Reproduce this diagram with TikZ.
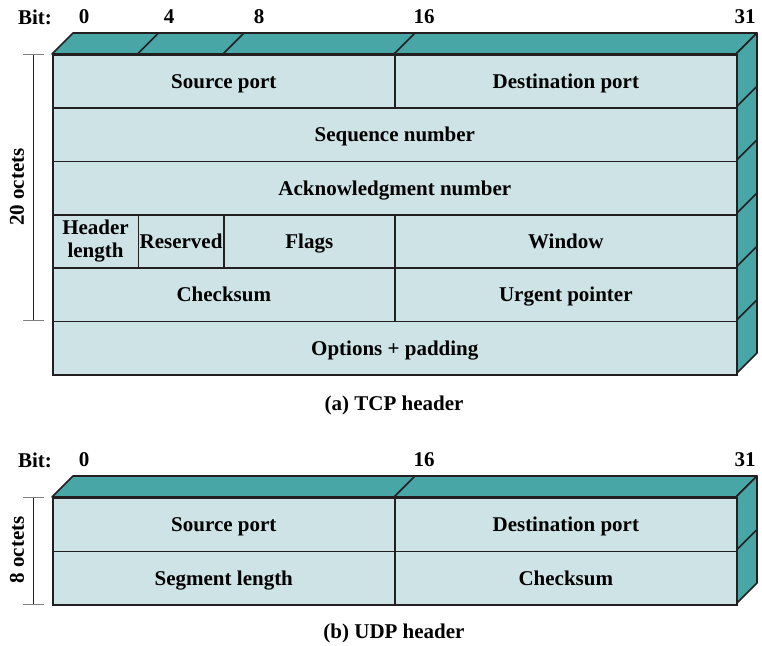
\documentclass[tikz,border=0pt]{standalone}
\usepackage{fontspec}
\setmainfont{Liberation Serif}
\usetikzlibrary{calc}
\definecolor{frontc}{HTML}{CDE3E5}
\definecolor{sidec}{HTML}{48A6A6}
\definecolor{edgec}{HTML}{231F20}
\tikzstyle{field} = [draw=edgec, fill=frontc, line width=1.6pt, rectangle, anchor=north west, inner sep=0pt, text centered, text height=16pt, text depth=2pt, minimum height=53.4pt, font=\fontsize{21}{23}\selectfont\bfseries]
\tikzstyle{face} = [draw=edgec, fill=sidec, line width=1.6pt, line join=round]
\tikzstyle{bitlabel} = [font=\fontsize{21}{23}\selectfont\bfseries]
\tikzstyle{caption} = [font=\fontsize{21}{23}\selectfont\bfseries]
\tikzstyle{brace} = [draw=edgec, line width=0.8pt]
\newcommand{\bw}{21.375}

\begin{document}
\begin{tikzpicture}[x=1pt, y=-1pt]
        \useasboundingbox (0,0) rectangle (762,645);
        % TCP header
        \draw[face] (52,54) -- (73,33) -- (757,33) -- (736,54) -- cycle;
        \draw[face] (736,54) -- (757,33) -- (757,353) -- (736,374) -- cycle;
        \foreach \b in {4,8,16}
            \draw[face] (52+\b*\bw,54) -- ++(21,-21);
        \foreach \r in {107.3,160.7,214,267.3,320.7}
            \draw[face] (736,\r) -- ++(21,-21);
        \node[field, minimum width=342pt] (tcpsrc) at (52,54) {Source port};
        \node[field, minimum width=342pt] (tcpdst) at (394,54) {Destination port};
        \node[field, minimum width=684pt] (seq) at (52,107.3) {Sequence number};
        \node[field, minimum width=684pt] (ack) at (52,160.7) {Acknowledgment number};
        \node[field, minimum width=85.5pt, text height=, text depth=, align=center] (hlen) at (52,214) {Header\\length};
        \node[field, minimum width=85.5pt] (resv) at (137.5,214) {Reserved};
        \node[field, minimum width=171pt] (flags) at (223,214) {Flags};
        \node[field, minimum width=342pt] (win) at (394,214) {Window};
        \node[field, minimum width=342pt] (tcpsum) at (52,267.3) {Checksum};
        \node[field, minimum width=342pt] (urg) at (394,267.3) {Urgent pointer};
        \node[field, minimum width=684pt] (opts) at (52,320.7) {Options + padding};
        \node[bitlabel] (tcpbit) at (35,17) {Bit:};
        \node[bitlabel] (tcpb0) at (84,17) {0};
        \node[bitlabel] (tcpb4) at (169,17) {4};
        \node[bitlabel] (tcpb8) at (259,17) {8};
        \node[bitlabel] (tcpb16) at (424,17) {16};
        \node[bitlabel] (tcpb31) at (745,17) {31};
        \draw[brace] (33,54) -- (33,320.7);
        \draw[brace, draw=gray] (23,54) -- (44,54) (23,320.7) -- (44,320.7);
        \node[caption, rotate=90] (tcpoct) at (17,187) {20 octets};
        \node[caption] (tcpcap) at (394,405) {(a) TCP header};
        % UDP header
        \draw[face] (52,497) -- (73,476) -- (757,476) -- (736,497) -- cycle;
        \draw[face] (736,497) -- (757,476) -- (757,583) -- (736,604) -- cycle;
        \draw[face] (52+16*\bw,497) -- ++(21,-21);
        \draw[face] (736,550.5) -- ++(21,-21);
        \node[field, minimum width=342pt, minimum height=53.5pt] (udpsrc) at (52,497) {Source port};
        \node[field, minimum width=342pt, minimum height=53.5pt] (udpdst) at (394,497) {Destination port};
        \node[field, minimum width=342pt, minimum height=53.5pt] (seglen) at (52,550.5) {Segment length};
        \node[field, minimum width=342pt, minimum height=53.5pt] (udpsum) at (394,550.5) {Checksum};
        \node[bitlabel] (udpbit) at (35,460) {Bit:};
        \node[bitlabel] (udpb0) at (84,460) {0};
        \node[bitlabel] (udpb16) at (424,460) {16};
        \node[bitlabel] (udpb31) at (745,460) {31};
        \draw[brace] (33,497) -- (33,604);
        \draw[brace, draw=gray] (23,497) -- (44,497) (23,604) -- (44,604);
        \node[caption, rotate=90] (udpoct) at (17,550) {8 octets};
        \node[caption] (udpcap) at (394,633) {(b) UDP header};
    \end{tikzpicture}
\end{document}
